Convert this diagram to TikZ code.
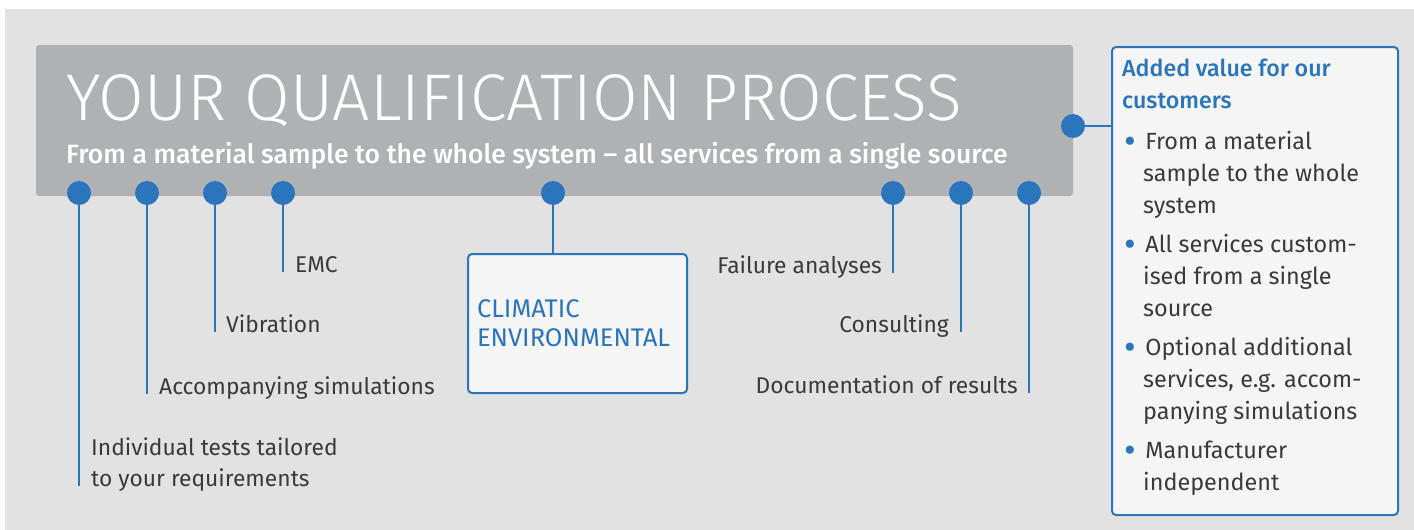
\documentclass[tikz,border=0pt]{standalone}
\usepackage{fontspec}
\usepackage{tikz}
\usetikzlibrary{positioning}
\setmainfont{Fira Sans}
\newfontfamily\lightfont{Fira Sans Light}
\newfontfamily\mediumfont{Fira Sans Medium}
\definecolor{mblue}{HTML}{2A75BB}
\definecolor{mtext}{HTML}{3A3A3A}
\definecolor{mback}{HTML}{E2E2E2}
\definecolor{mbanner}{HTML}{B0B1B3}
\definecolor{mbox}{HTML}{F5F5F5}
\tikzset{dot/.style = {circle, fill = mblue, inner sep = 0pt, minimum size = 24pt},
         link/.style = {mblue, line width = 2pt},
         lbl/.style = {text = mtext, inner sep = 0pt, align = left,
                       font = \fontsize{22.8}{31}\selectfont},
         panel/.style = {draw = mblue, line width = 2pt, fill = mbox, rounded corners = 4pt}}
\newcommand{\vbul}{\textcolor{mblue}{\fontsize{36}{32}\selectfont\raisebox{-4.5pt}{•}}\hspace{9.5pt}}
\newcommand{\vind}{\hspace{19pt}}

\begin{document}
\begin{tikzpicture}[x = 1pt, y = -1pt]
      \useasboundingbox (0, 0) rectangle (1414, 530);
      \fill [mback] (5, 9) rectangle (1414, 530);
      \fill [mbanner, rounded corners = 3pt] (36, 45) rectangle (1073, 196);
      \node (title) at (66, 120) [anchor = base west, inner sep = 0pt, text = white,
            font = \lightfont\fontsize{66}{66}\selectfont] {YOUR QUALIFICATION PROCESS};
      \node (sub) at (66, 163) [anchor = base west, inner sep = 0pt, text = white,
            font = \mediumfont\fontsize{26.5}{26.5}\selectfont]
            {From a material sample to the whole system – all services from a single source};
      % dots on the banner
      \node [dot] (d1) at (79, 193) {};
      \node [dot] (d2) at (147, 193) {};
      \node [dot] (d3) at (215, 193) {};
      \node [dot] (d4) at (283, 193) {};
      \node [dot] (d5) at (553, 193) {};
      \node [dot] (d6) at (893, 193) {};
      \node [dot] (d7) at (961, 193) {};
      \node [dot] (d8) at (1029, 193) {};
      \node [dot] (dR) at (1073, 126) {};
      % line ends
      \coordinate (e1) at (79, 486);
      \coordinate (e2) at (147, 394);
      \coordinate (e3) at (215, 332);
      \coordinate (e4) at (283, 272);
      \coordinate (e6) at (893, 273);
      \coordinate (e7) at (961, 332);
      \coordinate (e8) at (1029, 393);
      \draw [link] (d1) -- (e1);
      \draw [link] (d2) -- (e2);
      \draw [link] (d3) -- (e3);
      \draw [link] (d4) -- (e4);
      \draw [link] (d6) -- (e6);
      \draw [link] (d7) -- (e7);
      \draw [link] (d8) -- (e8);
      \node [lbl, anchor = south west] (l1) at ([xshift = 12pt, yshift = -6pt] e1)
            {Individual tests tailored\\to your requirements};
      \node [lbl, anchor = base west] (l2) at ([xshift = 12pt] e2) {Accompanying simulations};
      \node [lbl, anchor = base west] (l3) at ([xshift = 11pt] e3) {Vibration};
      \node [lbl, anchor = base west] (l4) at ([xshift = 12pt] e4) {EMC};
      \node [lbl, anchor = base east] (l6) at ([xshift = -11pt] e6) {Failure analyses};
      \node [lbl, anchor = base east] (l7) at ([xshift = -12pt] e7) {Consulting};
      \node [lbl, anchor = base east] (l8) at ([xshift = -11pt] e8) {Documentation of results};
      % climatic box
      \node [panel, anchor = north west, minimum width = 219pt, minimum height = 139pt,
             text width = 201pt, inner xsep = 9pt, inner ysep = 10pt, align = left, text = mblue,
             font = \fontsize{25.5}{29}\selectfont] (clim) at (467, 253)
            {CLIMATIC\\ENVIRONMENTAL};
      \draw [link] (d5) -- (d5 |- clim.north);
      % added value box
      \node [panel, anchor = north west, minimum width = 286pt, minimum height = 468pt]
            (val) at (1111, 46) {};
      \draw [link] (dR) -- (dR -| val.west);
      \node [anchor = north west, inner sep = 0pt, align = left, text = mblue,
             font = \mediumfont\fontsize{23.2}{32}\selectfont] (valhead) at (1122, 59)
            {Added value for our\\customers};
      \node [lbl, anchor = north west, font = \fontsize{23.4}{32}\selectfont] (vallist)
            at (1124, 131)
            {\vbul From a material\\
             \vind sample to the whole\\
             \vind system\\[7pt]
             \vbul All services custom-\\
             \vind ised from a single\\
             \vind source\\[7pt]
             \vbul Optional additional\\
             \vind services, e.g. accom-\\
             \vind panying simulations\\[7pt]
             \vbul Manufacturer\\
             \vind independent};
    \end{tikzpicture}
\end{document}
